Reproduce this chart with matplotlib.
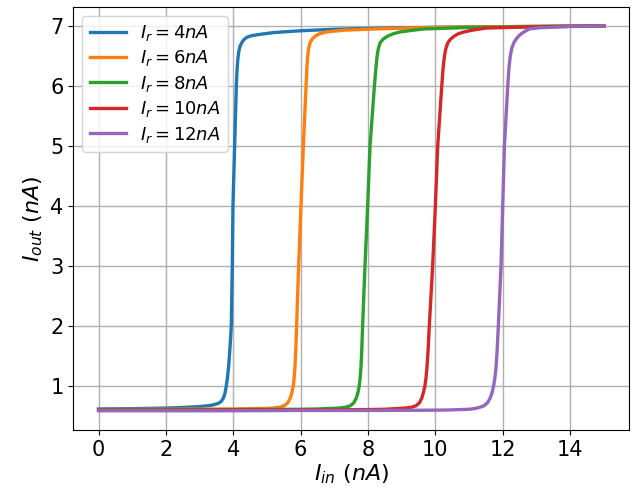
import matplotlib
matplotlib.use("Agg")
import matplotlib.pyplot as plt

# reference currents (nA) and curve readings
ir_values = [4, 6, 8, 10, 12]
labels = [r"$I_r = %dnA$" % v for v in ir_values]

x_4 = [0, 1, 2, 2.5, 3, 3.3, 3.45, 3.56, 3.64, 3.70, 3.75, 3.79, 3.83, 3.865, 3.895,
       3.92, 3.94, 3.97, 3.99, 4.04, 4.09, 4.11, 4.135, 4.165, 4.2, 4.25, 4.31, 4.4,
       4.52, 4.73, 5.2, 6.0, 7.0, 7.7, 9.0, 11.0, 13.0, 15.0]
y_4 = [0.615, 0.62, 0.63, 0.64, 0.655, 0.672, 0.69, 0.71, 0.74, 0.79, 0.87, 0.99, 1.15, 1.35, 1.58,
       1.8, 2.0, 3.0, 4.0, 5.0, 6.0, 6.25, 6.45, 6.58, 6.66, 6.72, 6.77, 6.81,
       6.835, 6.855, 6.89, 6.92, 6.945, 6.955, 6.97, 6.983, 6.992, 7.0]

x_6 = [0, 2, 4, 4.5, 5.0, 5.18, 5.38, 5.52, 5.62, 5.695, 5.745, 5.78, 5.805, 5.83, 5.855,
       5.88, 5.94, 6.01, 6.08, 6.16, 6.185, 6.21, 6.24, 6.28, 6.34, 6.43, 6.56, 6.76,
       7.3, 8.19, 9.5, 11.0, 13.0, 15.0]
y_6 = [0.605, 0.61, 0.615, 0.62, 0.625, 0.63, 0.645, 0.67, 0.72, 0.8, 0.9, 1.0, 1.12, 1.3, 1.6,
       2.0, 3.0, 4.0, 5.0, 6.0, 6.3, 6.5, 6.63, 6.72, 6.78, 6.83, 6.87, 6.9,
       6.93, 6.95, 6.97, 6.983, 6.993, 7.0]

x_8 = [0, 2, 4, 6, 6.5, 7.14, 7.34, 7.48, 7.58, 7.655, 7.705, 7.74, 7.765, 7.79, 7.815,
       7.84, 7.91, 7.99, 8.06, 8.19, 8.235, 8.27, 8.31, 8.36, 8.45, 8.58, 8.75, 8.95,
       9.35, 9.67, 11.0, 13.0, 15.0]
y_8 = [0.60, 0.60, 0.605, 0.61, 0.615, 0.63, 0.645, 0.67, 0.72, 0.8, 0.9, 1.0, 1.12, 1.3, 1.6,
       2.0, 3.0, 4.0, 5.0, 6.0, 6.3, 6.5, 6.63, 6.72, 6.78, 6.83, 6.87, 6.9,
       6.93, 6.95, 6.975, 6.99, 7.0]

x_10 = [0, 2, 4, 6, 8, 8.5, 9.1, 9.3, 9.43, 9.53, 9.6, 9.65, 9.69, 9.72, 9.75, 9.785,
        9.82, 9.92, 10.0, 10.07, 10.19, 10.23, 10.27, 10.315, 10.37, 10.45, 10.56, 10.68,
        10.85, 11.1, 11.5, 12.5, 13.5, 15.0]
y_10 = [0.595, 0.595, 0.60, 0.60, 0.605, 0.61, 0.63, 0.645, 0.67, 0.72, 0.8, 0.9, 1.0, 1.12, 1.3, 1.6,
        2.0, 3.0, 4.0, 5.0, 6.0, 6.3, 6.5, 6.63, 6.72, 6.78, 6.83, 6.87,
        6.9, 6.93, 6.965, 6.98, 6.99, 7.0]

x_12 = [0, 2, 4, 6, 8, 10, 10.5, 11.0, 11.2, 11.33, 11.45, 11.55, 11.63, 11.69, 11.73,
        11.765, 11.8, 11.835, 11.87, 11.95, 12.0, 12.05, 12.15, 12.185, 12.225, 12.27,
        12.33, 12.40, 12.47, 12.55, 12.63, 12.79, 13.09, 14.0, 15.0]
y_12 = [0.585, 0.585, 0.585, 0.59, 0.59, 0.595, 0.60, 0.61, 0.625, 0.645, 0.67, 0.72, 0.8, 0.9, 1.0,
        1.12, 1.3, 1.6, 2.0, 3.0, 4.0, 5.0, 6.0, 6.3, 6.5, 6.63,
        6.72, 6.78, 6.83, 6.87, 6.9, 6.95, 6.97, 6.99, 7.0]

curves = [(x_4, y_4), (x_6, y_6), (x_8, y_8), (x_10, y_10), (x_12, y_12)]
colors = ["#1f77b4", "#ff7f0e", "#2ca02c", "#d62728", "#9467bd"]

fig = plt.figure(figsize=(6.36, 5.01), dpi=100)
ax = fig.add_axes([0.1153, 0.1417, 0.8737, 0.8449])

for (xs, ys), lab, col in zip(curves, labels, colors):
    ax.plot(xs, ys, color=col, linewidth=2.4, label=lab)

ax.set_xticks([0, 2, 4, 6, 8, 10, 12, 14])
ax.set_yticks([1, 2, 3, 4, 5, 6, 7])
ax.tick_params(labelsize=15)
ax.set_xlabel(r"$I_{in}\ (nA)$", fontsize=16, labelpad=2)
ax.set_ylabel(r"$I_{out}\ (nA)$", fontsize=16, labelpad=4)
ax.grid(True, linewidth=1.0)
ax.legend(loc="upper left", fontsize=13, labelspacing=0.3)

fig.savefig("out.png", dpi=100)
